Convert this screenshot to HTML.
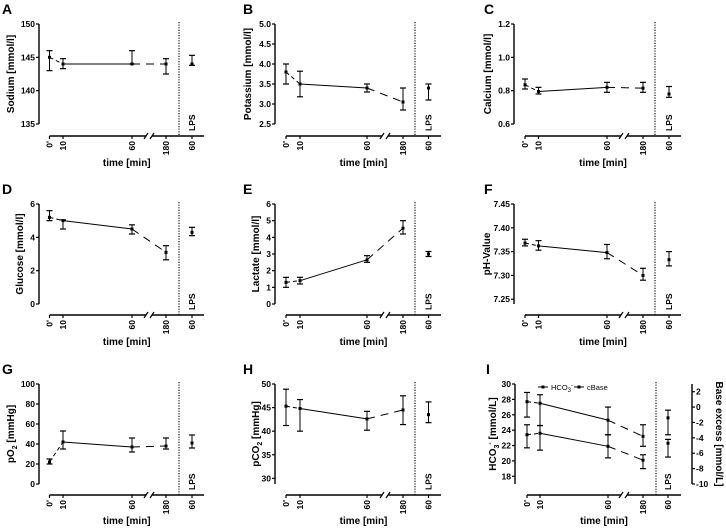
<!DOCTYPE html>
<html><head><meta charset="utf-8"><style>
html,body{margin:0;padding:0;background:#fff;}
svg{display:block;font-family:"Liberation Sans",Arial,sans-serif;}
text{font-weight:bold;fill:#000;}
</style></head><body>
<svg id="chart" width="726" height="530" viewBox="0 0 726 530" xmlns="http://www.w3.org/2000/svg"></svg>
<script>
// ---- data (mean, upper error, lower error at 0', 10, 60, 180 min; LPS = [mean, upper, lower]) ----
const timeLabels = ["0'", "10", "60", "180"];
const lpsLabel = "60";
const naMean = [145, 144, 144, 144];
const naUp = [146, 144.8, 146, 144.8];
const naLow = [143, 143.3, 144, 142.5];
const naLps = [144, 145.3, 143.8];
const kMean = [3.8, 3.5, 3.4, 3.05];
const kUp = [4.0, 3.82, 3.5, 3.4];
const kLow = [3.5, 3.18, 3.3, 2.85];
const kLps = [3.4, 3.5, 3.1];
const caMean = [0.835, 0.795, 0.82, 0.815];
const caUp = [0.87, 0.82, 0.85, 0.85];
const caLow = [0.81, 0.78, 0.79, 0.79];
const caLps = [0.78, 0.825, 0.76];
const gluMean = [5.2, 5.0, 4.5, 3.1];
const gluUp = [5.6, 5.05, 4.75, 3.5];
const gluLow = [5.0, 4.5, 4.2, 2.65];
const gluLps = [4.3, 4.6, 4.1];
const lacMean = [1.3, 1.4, 2.65, 4.55];
const lacUp = [1.6, 1.6, 2.9, 5.0];
const lacLow = [1.0, 1.2, 2.5, 4.2];
const lacLps = [3.0, 3.15, 2.85];
const phMean = [7.368, 7.362, 7.348, 7.30];
const phUp = [7.376, 7.373, 7.365, 7.315];
const phLow = [7.362, 7.353, 7.335, 7.29];
const phLps = [7.333, 7.35, 7.32];
const po2Mean = [22, 42, 37, 38];
const po2Up = [25, 53, 46, 46];
const po2Low = [20, 35, 32, 35];
const po2Lps = [41, 49, 36];
const pco2Mean = [45.3, 44.8, 42.6, 44.5];
const pco2Up = [48.9, 46.7, 44.2, 47.5];
const pco2Low = [41.2, 40.0, 40.2, 41.4];
const pco2Lps = [43.5, 46.2, 41.8];
const hco3Mean = [23.4, 23.6, 21.9, 20.1];
const hco3Up = [24.7, 24.6, 23.4, 20.8];
const hco3Low = [21.7, 21.4, 20.4, 19.0];
const hco3Lps = [22.3, 22.8, 20.5];
const beMean = [0.7, 0.5, -1.7, -3.8];
const beUp = [1.9, 1.6, 0.0, -2.3];
const beLow = [-1.3, -2.4, -3.6, -5.1];
const beLps = [-1.4, -0.4, -3.6];
const naTicks = [135, 140, 145, 150];
const kTicks = [2.5, 3.0, 3.5, 4.0, 4.5, 5.0];
const caTicks = [0.6, 0.8, 1.0, 1.2];
const gluTicks = [0, 2, 4, 6];
const lacTicks = [0, 1, 2, 3, 4, 5, 6];
const phTicks = [7.25, 7.30, 7.35, 7.40, 7.45];
const po2Ticks = [0, 20, 40, 60, 80, 100];
const pco2Ticks = [30, 35, 40, 45, 50];
const hco3Ticks = [18, 20, 22, 24, 26, 28, 30];
const beTicks = [-10, -8, -6, -4, -2, 0, 2];

const NS = "http://www.w3.org/2000/svg";
const svg = document.getElementById('chart');
function mk(tag, attrs, parent) {
  const e = document.createElementNS(NS, tag);
  for (const k in attrs) e.setAttribute(k, attrs[k]);
  (parent || svg).appendChild(e);
  return e;
}
const cols = [
  {ax: 39, xs: [49.5, 63, 132, 166], br: [146, 152], dot: 179, lps: 192, end: 204},
  {ax: 275, xs: [286, 300, 367, 403], br: [382, 388], dot: 415, lps: 428.5, end: 441},
  {ax: 514, xs: [525, 538.5, 607, 643], br: [621, 627], dot: 655, lps: 669, end: 681}
];
const rows = [
  {top: 24, bottom: 124, xaxis: 136, tl: 167, letter: 14},
  {top: 204, bottom: 304, xaxis: 315, tl: 346, letter: 194},
  {top: 384, bottom: 484, xaxis: 495, tl: 525, letter: 374}
];

function drawSeries(g, c, yf, mean, up, low, lps, name) {
  const xs = c.xs;
  const styles = ["4,3", null, "8,6"];
  for (let i = 0; i < 3; i++) {
    const l = mk('line', {x1: xs[i], y1: yf(mean[i]), x2: xs[i+1], y2: yf(mean[i+1]), stroke: '#000', 'stroke-width': 1}, g);
    if (styles[i]) l.setAttribute('stroke-dasharray', styles[i]);
    
    
  }
  const allX = xs.concat([c.lps]);
  const allM = mean.concat([lps[0]]);
  const allU = up.concat([lps[1]]);
  const allL = low.concat([lps[2]]);
  for (let i = 0; i < allX.length; i++) {
    const x = allX[i];
    const eg = mk('g', {}, g);
    
    
    mk('line', {x1: x, y1: yf(allU[i]), x2: x, y2: yf(allL[i]), stroke: '#000', 'stroke-width': 1}, eg);
    mk('line', {x1: x - 3, y1: yf(allU[i]), x2: x + 3, y2: yf(allU[i]), stroke: '#000', 'stroke-width': 1.2}, eg);
    mk('line', {x1: x - 3, y1: yf(allL[i]), x2: x + 3, y2: yf(allL[i]), stroke: '#000', 'stroke-width': 1.2}, eg);
    mk('rect', {x: x - 1.5, y: yf(allM[i]) - 1.5, width: 3, height: 3, fill: '#000'}, eg);
  }
}

function panel(opt) {
  const c = opt.col, r = opt.row;
  const g = mk('g', {});
  
  
  const ymin = opt.ymin, ymax = opt.ymax;
  const yf = v => r.bottom - (v - ymin) / (ymax - ymin) * (r.bottom - r.top);
  const lt = mk('text', {x: opt.lx, y: r.letter, 'font-size': 14}, g);
  lt.textContent = opt.letter;
  
  
  const ya = mk('line', {x1: c.ax, y1: r.top, x2: c.ax, y2: r.bottom, stroke: '#000', 'stroke-width': 1.4}, g);
  
  
  opt.ticks.forEach(t => {
    const y = yf(t);
    mk('line', {x1: c.ax - 3, y1: y, x2: c.ax, y2: y, stroke: '#000', 'stroke-width': 1.2}, g);
    const tx = mk('text', {x: c.ax - 4, y: y + 3, 'font-size': 8.5, 'text-anchor': 'end'}, g);
    tx.textContent = t.toFixed(opt.dec);
    
    
  });
  const ymid = (r.top + r.bottom) / 2;
  const yt = mk('text', {x: 0, y: 0, 'font-size': 10, 'text-anchor': 'middle', transform: `translate(${opt.tx},${ymid}) rotate(-90)`}, g);
  yt.innerHTML = opt.title;
  
  
  const xa = mk('g', {}, g);
  
  
  const Y = r.xaxis;
  mk('line', {x1: c.xs[0], y1: Y, x2: c.br[0], y2: Y, stroke: '#000', 'stroke-width': 1.4}, xa);
  mk('line', {x1: c.br[1], y1: Y, x2: c.end, y2: Y, stroke: '#000', 'stroke-width': 1.4}, xa);
  mk('line', {x1: c.br[0] - 2, y1: Y + 3, x2: c.br[0] + 2, y2: Y - 3, stroke: '#000', 'stroke-width': 1.2}, xa);
  mk('line', {x1: c.br[1] - 2, y1: Y + 3, x2: c.br[1] + 2, y2: Y - 3, stroke: '#000', 'stroke-width': 1.2}, xa);
  const tickX = c.xs.concat([c.lps]);
  const tickL = timeLabels.concat([lpsLabel]);
  tickX.forEach((x, i) => {
    mk('line', {x1: x, y1: Y, x2: x, y2: Y + 3, stroke: '#000', 'stroke-width': 1.2}, xa);
    const tx = mk('text', {x: 0, y: 0, 'font-size': 8.5, 'text-anchor': 'end', transform: `translate(${x + 3},${Y + 5}) rotate(-90)`}, xa);
    tx.textContent = tickL[i];
    
    
  });
  const lps = mk('text', {x: 0, y: 0, 'font-size': 8.5, 'text-anchor': 'start', transform: `translate(${c.lps + 3},${Y - 5}) rotate(-90)`}, g);
  lps.textContent = 'LPS';
  
  
  const dl = mk('line', {x1: c.dot, y1: r.top - 2, x2: c.dot, y2: Y, stroke: '#111', 'stroke-width': 1.2, 'stroke-dasharray': '1.2,1.4'}, g);
  
  
  const tl = mk('text', {x: (c.xs[0] + c.end) / 2, y: r.tl - 1, 'font-size': 10, 'text-anchor': 'middle'}, g);
  tl.textContent = 'time [min]';
  
  
  return {g, yf};
}

let p;
p = panel({name: 'sodium', letter: 'A', lx: 2, col: cols[0], row: rows[0], ymin: 135, ymax: 150, ticks: naTicks, dec: 0, tx: 14, title: 'Sodium [mmol/l]'});
drawSeries(p.g, cols[0], p.yf, naMean, naUp, naLow, naLps, 'sodium');
p = panel({name: 'potassium', letter: 'B', lx: 243, col: cols[1], row: rows[0], ymin: 2.5, ymax: 5.0, ticks: kTicks, dec: 1, tx: 251, title: 'Potassium [mmol/l]'});
drawSeries(p.g, cols[1], p.yf, kMean, kUp, kLow, kLps, 'potassium');
p = panel({name: 'calcium', letter: 'C', lx: 484, col: cols[2], row: rows[0], ymin: 0.6, ymax: 1.2, ticks: caTicks, dec: 1, tx: 491, title: 'Calcium [mmol/l]'});
drawSeries(p.g, cols[2], p.yf, caMean, caUp, caLow, caLps, 'calcium');
p = panel({name: 'glucose', letter: 'D', lx: 2, col: cols[0], row: rows[1], ymin: 0, ymax: 6, ticks: gluTicks, dec: 0, tx: 23, title: 'Glucose [mmol/l]'});
drawSeries(p.g, cols[0], p.yf, gluMean, gluUp, gluLow, gluLps, 'glucose');
p = panel({name: 'lactate', letter: 'E', lx: 243, col: cols[1], row: rows[1], ymin: 0, ymax: 6, ticks: lacTicks, dec: 0, tx: 259, title: 'Lactate [mmol/l]'});
drawSeries(p.g, cols[1], p.yf, lacMean, lacUp, lacLow, lacLps, 'lactate');
p = panel({name: 'ph', letter: 'F', lx: 484, col: cols[2], row: rows[1], ymin: 7.24, ymax: 7.45, ticks: phTicks, dec: 2, tx: 490, title: 'pH-Value'});
drawSeries(p.g, cols[2], p.yf, phMean, phUp, phLow, phLps, 'ph');
p = panel({name: 'po2', letter: 'G', lx: 2, col: cols[0], row: rows[2], ymin: 0, ymax: 100, ticks: po2Ticks, dec: 0, tx: 14, title: 'pO<tspan font-size="7" dy="3">2</tspan><tspan dy="-3"> [mmHg]</tspan>'});
drawSeries(p.g, cols[0], p.yf, po2Mean, po2Up, po2Low, po2Lps, 'po2');
p = panel({name: 'pco2', letter: 'H', lx: 243, col: cols[1], row: rows[2], ymin: 28.8, ymax: 50, ticks: pco2Ticks, dec: 0, tx: 259, title: 'pCO<tspan font-size="7" dy="3">2</tspan><tspan dy="-3"> [mmHg]</tspan>'});
drawSeries(p.g, cols[1], p.yf, pco2Mean, pco2Up, pco2Low, pco2Lps, 'pco2');
const colI = {ax: 515, xs: [527, 540, 608, 643], br: [621, 627], dot: 656, lps: 668, end: 681};
p = panel({name: 'hco3', letter: 'I', lx: 486, col: colI, row: rows[2], ymin: 17, ymax: 30, ticks: hco3Ticks, dec: 0, tx: 496, title: 'HCO<tspan font-size="7" dy="3">3</tspan><tspan font-size="7" dy="-7">-</tspan><tspan dy="4"> [mmol/L]</tspan>'});
drawSeries(p.g, colI, p.yf, hco3Mean, hco3Up, hco3Low, hco3Lps, 'hco3');
const rg = mk('g', {});


const bmin = -10, bmax = 3;
const byf = v => 484 - (v - bmin) / (bmax - bmin) * 100;
mk('line', {x1: 692, y1: 384, x2: 692, y2: 484, stroke: '#000', 'stroke-width': 1.4}, rg);
beTicks.forEach(t => {
  mk('line', {x1: 692, y1: byf(t), x2: 695, y2: byf(t), stroke: '#000', 'stroke-width': 1.2}, rg);
  const tx = mk('text', {x: 696, y: byf(t) + 3, 'font-size': 8.5}, rg);
  tx.textContent = t;
  
  
});
const rt = mk('text', {x: 0, y: 0, 'font-size': 10, 'text-anchor': 'middle', transform: 'translate(716,434) rotate(90)'}, rg);
rt.textContent = 'Base excess [mmol/L]';


drawSeries(rg, colI, byf, beMean, beUp, beLow, beLps, 'cbase');
const lg = mk('g', {});


[[538, 'HCO<tspan font-size="6" dy="2">3</tspan><tspan font-size="6" dy="-5">-</tspan>', 'legend-entry-hco3'], [574, 'cBase', 'legend-entry-cbase']].forEach(e => {
  const eg = mk('g', {}, lg);
  
  
  mk('line', {x1: e[0], y1: 387, x2: e[0] + 10, y2: 387, stroke: '#000', 'stroke-width': 1}, eg);
  mk('rect', {x: e[0] + 3.5, y: 385.5, width: 3, height: 3, fill: '#000'}, eg);
  const t = mk('text', {x: e[0] + 13, y: 390, 'font-size': 7.5}, eg);
  t.style.fontWeight = 'normal';
  t.innerHTML = e[1];
});
</script>
</body></html>
